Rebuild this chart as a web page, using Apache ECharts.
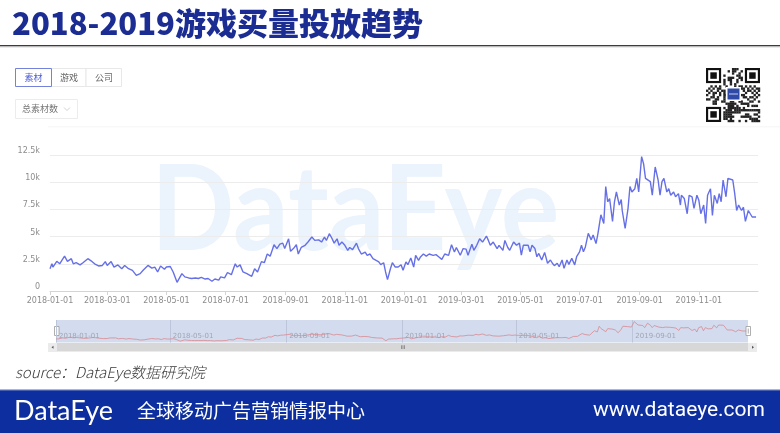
<!DOCTYPE html>
<html><head><meta charset="utf-8">
<script src="https://cdn.jsdelivr.net/npm/echarts@6/dist/echarts.min.js"></script>
<style>html,body{margin:0;padding:0;background:#fff}#c{width:780px;height:433px}</style>
</head><body><div id="c"></div>
<script>
// days since 2018-01-01
const dayIndex = [0,2,3,7,10,15,18,22,24,27,31,34,39,42,46,50,54,57,59,63,66,70,74,77,81,85,89,93,96,101,105,108,111,114,118,120,124,127,131,133,136,139,143,146,150,153,156,160,163,167,170,174,176,180,183,187,191,193,196,199,203,205,208,211,214,218,221,224,227,231,234,237,
240,242,246,248,251,254,256,259,263,266,270,273,277,280,283,285,288,290,293,296,298,301,304,307,309,312,316,318,321,325,327,330,333,335,339,341,344,346,348,351,353,356,359,362,364,367,369,372,375,377,380,382,385,388,391,395,398,401,404,407,411,414,417,419,423,426,429,431,435,437,440,443,446,450,452,454,457,461,463,467,469,472,474,478,481,484,
486,488,490,493,495,497,500,502,504,507,510,513,516,518,520,523,525,528,530,533,535,538,541,543,546,548,550,552,555,558,560,563,565,568,571,573,575,577,580,582,584,587,589,590,593,596,598,600,603,605,607,610,612,614,616,619,621,624,627,629,631,633,636,638,640,643,645,648,650,651,654,657,659,662,664,667,669,671,674,676,678,681,683,685,688,690,692,694,697,699,701,704,706,708,710,713,715,717,720,722,724,726,728];
// total creatives per day
const counts = [2050,2500,2200,2730,2500,3200,2730,2970,2500,2600,2400,2600,2970,2800,2500,2300,2350,2700,2350,2700,2200,2400,2050,2350,2050,1900,1440,1600,1900,2350,2100,2200,1750,2300,2000,2200,2250,1750,800,980,1600,1300,1200,1150,1200,1150,1250,1100,1150,900,1100,1000,1300,1200,1700,1500,2500,2200,2400,1750,1600,1750,1350,2050,1750,2700,2600,3400,3200,4250,3900,4300,
4400,3900,4800,3650,3900,4250,3400,4000,4200,4500,4960,4650,4700,4500,4960,4650,5270,4960,4400,4800,4200,4500,4200,3740,4000,3800,4400,3900,3400,3580,3280,3400,2970,3130,2670,2420,2600,1750,1050,2050,2600,2200,2200,2420,1900,2670,2420,3030,2200,3280,2820,3130,3400,3200,3400,3280,3340,3130,2910,3400,3280,4250,3580,4000,3280,3900,3850,3280,4300,3740,4200,4800,4500,5050,4650,4200,4500,3900,4200,3740,4650,4000,3740,4500,4200,4400,
3300,4200,4050,4200,3600,4200,3900,3150,3450,2850,3550,2550,2850,2550,2330,2550,2230,2850,2080,2850,2450,3000,2400,3150,3600,4200,3600,4050,5300,4700,5150,4360,5300,7000,6200,9600,8200,8500,6400,8200,9100,7900,8400,7400,5760,7600,9600,9100,9400,10350,9100,12350,11700,10350,10500,10050,8800,11400,10200,8800,10050,10350,9100,9400,8800,9100,8660,8950,7900,8800,8500,7100,8800,8660,7600,8800,8350,7100,7900,6200,8800,9400,6950,8800,8050,8950,8200,10200,8660,10350,10200,10200,8950,7400,7900,7400,7700,6400,7400,7250,6800,6800,6800];
const xMinDate = '2018-01-01';
const xMaxDate = '2020-01-01';
const xTickDates = ['2018-01-01','2018-03-01','2018-05-01','2018-07-01','2018-09-01','2018-11-01','2019-01-01','2019-03-01','2019-05-01','2019-07-01','2019-09-01','2019-11-01'];
const miniTickDates = ['2018-01-01','2018-05-01','2018-09-01','2019-01-01','2019-05-01','2019-09-01'];
const yMax = 12500, yStep = 2500;

function toTs(s){const p=s.split('-').map(Number);return new Date(p[0],p[1]-1,p[2]).getTime();}
function pad(n){return (n<10?'0':'')+n;}
function fmt(v){const d=new Date(v);return d.getFullYear()+'-'+pad(d.getMonth()+1)+'-'+pad(d.getDate());}
const seriesData = dayIndex.map((d,i)=>[new Date(2018,0,1+d).getTime(), counts[i]]);
const xTicks = xTickDates.map(toTs);
const miniTicks = miniTickDates.map(toTs);

const CJK = '"Noto Sans CJK SC", "Noto Sans", sans-serif';

// decorative QR-like block
const qr = [];
const qx = 706, qy = 68, N = 25, m = 54/25;
function finder(ox, oy){
  qr.push({type:'rect',shape:{x:qx+ox*m,y:qy+oy*m,width:7*m,height:7*m},style:{fill:'#111'}});
  qr.push({type:'rect',shape:{x:qx+(ox+1)*m,y:qy+(oy+1)*m,width:5*m,height:5*m},style:{fill:'#fff'}});
  qr.push({type:'rect',shape:{x:qx+(ox+2)*m,y:qy+(oy+2)*m,width:3*m,height:3*m},style:{fill:'#111'}});
}
for(let i=0;i<N;i++){for(let j=0;j<N;j++){
  const inF = (i<8&&j<8)||(i<8&&j>16)||(i>16&&j<8);
  if(inF) continue;
  const h = (i*131 + j*71 + ((i*j)%11)*17 + (i^j)*5) % 7;
  if(h<3) qr.push({type:'rect',shape:{x:qx+j*m,y:qy+i*m,width:m+0.2,height:m+0.2},style:{fill:'#222'}});
}}
finder(0,0); finder(18,0); finder(0,18);
qr.push({type:'rect',shape:{x:726,y:87,width:15,height:14},style:{fill:'#fff'}});
qr.push({type:'rect',shape:{x:727.5,y:88.5,width:12,height:11},style:{fill:'#2f4aa6'}});
qr.push({type:'rect',shape:{x:729,y:93.5,width:9,height:1},style:{fill:'#c9d3f0'}});

const chart = echarts.init(document.getElementById('c'), null, {renderer:'canvas'});
chart.setOption({
  animation:false,
  backgroundColor:'#fff',
  grid:[
    {left:50,right:22,top:155,bottom:142},
    {left:56,right:32,top:320,height:22.5,show:true,backgroundColor:'#d3dbee',borderWidth:0}
  ],
  xAxis:[
    {type:'value',gridIndex:0,min:toTs(xMinDate),max:toTs(xMaxDate),
     axisLine:{lineStyle:{color:'#d4d4d4'}},
     axisTick:{show:true,customValues:xTicks,length:4,lineStyle:{color:'#d4d4d4'}},
     axisLabel:{customValues:xTicks,formatter:fmt,color:'#8c8c8c',fontSize:8,margin:6,fontFamily:'"DejaVu Sans", sans-serif'},
     splitLine:{show:false}},
    {type:'value',gridIndex:1,min:toTs(xMinDate),max:toTs(xMaxDate),
     axisLine:{show:false},
     axisTick:{show:false,customValues:miniTicks},
     axisLabel:{inside:true,customValues:miniTicks,formatter:fmt,color:'#a0a6b4',fontSize:7,margin:3,align:'left',padding:[0,0,0,3],fontFamily:'"DejaVu Sans", sans-serif'},
     splitLine:{show:true,lineStyle:{color:'#bcc5da',width:1}}}
  ],
  yAxis:[
    {type:'value',gridIndex:0,min:0,max:yMax,interval:yStep,
     axisLine:{show:false},axisTick:{show:false},
     axisLabel:{formatter:v=>v===0?'0':(v/1000)+'k',color:'#8c8c8c',fontSize:8,margin:10,verticalAlign:'bottom',fontFamily:'"DejaVu Sans", sans-serif'},
     splitLine:{lineStyle:{color:'#ececec'}}},
    {type:'value',gridIndex:1,min:0,max:13300,show:false,splitLine:{show:false}}
  ],
  series:[
    {type:'line',xAxisIndex:0,yAxisIndex:0,data:seriesData,showSymbol:false,silent:true,z:5,
     lineStyle:{color:'#6670e6',width:1.4}},
    {type:'line',xAxisIndex:1,yAxisIndex:1,data:seriesData,showSymbol:false,silent:true,
     lineStyle:{color:'#d98a90',width:0.8}}
  ],
  graphic:[
    {type:'text',x:151,y:212,scaleX:0.93,z:-1,silent:true,
     style:{text:'DataEye',font:'bold 118px Lato, sans-serif',fill:'#ebf3fc',verticalAlign:'middle'}},
    {type:'text',x:12,y:23,style:{text:'2018-2019游戏买量投放趋势',fontFamily:CJK,fontSize:31,fontWeight:900,fill:'#1b2c92',verticalAlign:'middle'}},
    {type:'rect',shape:{x:0,y:45,width:780,height:1.6},style:{fill:'#3c3c3c'}},
    {type:'rect',shape:{x:0,y:46.6,width:780,height:1},style:{fill:'#d8d8d8'}},
    {type:'rect',shape:{x:51.5,y:68.5,width:34.5,height:18},style:{fill:'#fff',stroke:'#e8e8e8',lineWidth:1}},
    {type:'rect',shape:{x:86,y:68.5,width:35.5,height:18},style:{fill:'#fff',stroke:'#e8e8e8',lineWidth:1}},
    {type:'rect',shape:{x:15.5,y:68.5,width:36,height:18},style:{fill:'#fff',stroke:'#7582dc',lineWidth:1}},
    {type:'text',x:33.5,y:77.5,style:{text:'素材',fontFamily:CJK,fontSize:9,fill:'#4f5fd6',align:'center',verticalAlign:'middle'}},
    {type:'text',x:69,y:77.5,style:{text:'游戏',fontFamily:CJK,fontSize:9,fill:'#666',align:'center',verticalAlign:'middle'}},
    {type:'text',x:104,y:77.5,style:{text:'公司',fontFamily:CJK,fontSize:9,fill:'#666',align:'center',verticalAlign:'middle'}},
    {type:'rect',shape:{x:15.5,y:99.5,width:62,height:19},style:{fill:'#fff',stroke:'#ececec',lineWidth:1}},
    {type:'text',x:22,y:109,style:{text:'总素材数',fontFamily:CJK,fontSize:9,fill:'#777',verticalAlign:'middle'}},
    {type:'polyline',shape:{points:[[64,107.5],[67,110.5],[70,107.5]]},style:{stroke:'#c4c4c4',lineWidth:0.8,fill:null}},
    {type:'rect',shape:{x:48,y:126.5,width:732,height:0.8},style:{fill:'#f1f1f1'}},
    {type:'group',children:qr},
    {type:'rect',shape:{x:54.5,y:326.5,width:4.5,height:9},style:{fill:'#fff',stroke:'#9a9a9a',lineWidth:0.8}},
    {type:'rect',shape:{x:56.3,y:328.5,width:0.8,height:5},style:{fill:'#9a9a9a'}},
    {type:'rect',shape:{x:746,y:326.5,width:4.5,height:9},style:{fill:'#fff',stroke:'#9a9a9a',lineWidth:0.8}},
    {type:'rect',shape:{x:747.8,y:328.5,width:0.8,height:5},style:{fill:'#9a9a9a'}},
    {type:'rect',shape:{x:48,y:343,width:709,height:8.5},style:{fill:'#d7d7d7'}},
    {type:'rect',shape:{x:48,y:343,width:9,height:8.5},style:{fill:'#ebebeb'}},
    {type:'rect',shape:{x:748,y:343,width:9,height:8.5},style:{fill:'#ebebeb'}},
    {type:'polygon',shape:{points:[[51.5,347.3],[53.5,345.8],[53.5,348.8]]},style:{fill:'#555'}},
    {type:'polygon',shape:{points:[[754,347.3],[752,345.8],[752,348.8]]},style:{fill:'#555'}},
    {type:'text',x:403,y:347.5,style:{text:'III',fontSize:5,fill:'#555',align:'center',verticalAlign:'middle',fontFamily:'"DejaVu Sans", sans-serif'}},
    {type:'text',x:15,y:372,style:{text:'source：DataEye数据研究院',fontFamily:CJK,fontSize:15,fontWeight:300,fontStyle:'italic',fill:'#3a3a3a',verticalAlign:'middle'}},
    {type:'rect',shape:{x:0,y:390,width:780,height:43},style:{fill:'#0c2e9e'}},
    {type:'rect',shape:{x:0,y:389.5,width:780,height:1.2},style:{fill:'#5a6fb8'}},
    {type:'text',x:14,y:411,style:{text:'DataEye',font:'27px Lato, sans-serif',fill:'#fff',verticalAlign:'middle'}},
    {type:'text',x:137,y:411,style:{text:'全球移动广告营销情报中心',fontFamily:CJK,fontSize:19,fill:'#fff',verticalAlign:'middle'}},
    {type:'text',x:765,y:411,style:{text:'www.dataeye.com',fontFamily:'Roboto, sans-serif',fontSize:21,fill:'#fff',align:'right',verticalAlign:'middle'}}
  ]
});
</script></body></html>
